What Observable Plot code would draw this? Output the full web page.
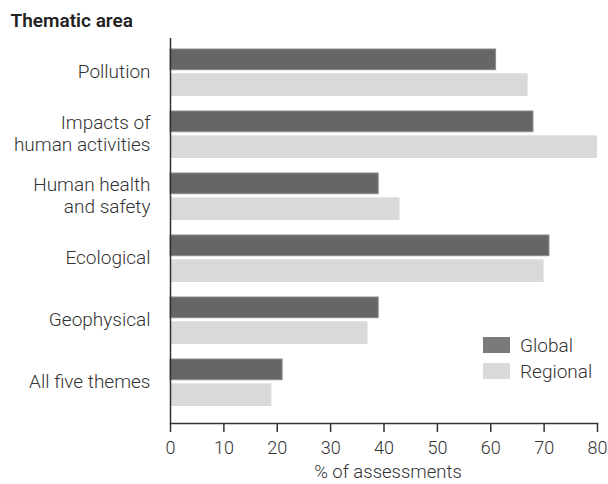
<!DOCTYPE html>
<html>
<head>
<meta charset="utf-8">
<script src="https://cdn.jsdelivr.net/npm/d3@7"></script>
<script src="https://cdn.jsdelivr.net/npm/@observablehq/plot@0.6"></script>
<style>
  html, body { margin: 0; padding: 0; background: #fff; }
  #wrap { position: relative; width: 608px; height: 484px; font-family: Roboto, "Noto Sans", sans-serif; }
  .leg { position: absolute; display: flex; align-items: center; font-size: 19px; font-weight: 300; color: #333; }
  .sw { width: 27px; height: 16px; margin-right: 10px; }
</style>
</head>
<body>
<div id="wrap"></div>
<script>
const categories = ["Pollution", "Impacts of human activities", "Human health and safety", "Ecological", "Geophysical", "All five themes"];
const tickLabels = ["Pollution", "Impacts of\nhuman activities", "Human health\nand safety", "Ecological", "Geophysical", "All five themes"];
const globalValues = [61, 68, 39, 71, 39, 21];
const regionalValues = [67, 80, 43, 70, 37, 19];
const seriesNames = ["Global", "Regional"];
const seriesColors = ["#666666", "#d9d9d9"];
const xTicks = [0, 10, 20, 30, 40, 50, 60, 70, 80];
const titleText = "Thematic area";
const xLabel = "% of assessments";

const data = categories.map((c, i) => ({cat: c, g: globalValues[i], r: regionalValues[i]}));
const labelOf = new Map(categories.map((c, i) => [c, tickLabels[i]]));

const chart = Plot.plot({
  width: 608,
  height: 484,
  marginLeft: 170,
  marginRight: 11,
  marginTop: 38,
  marginBottom: 61,
  style: {fontFamily: "Roboto, 'Noto Sans', sans-serif", fontSize: "19px", color: "#333", background: "#fff"},
  x: {domain: [0, 80]},
  y: {domain: categories, paddingInner: 0.24, paddingOuter: 0.21, align: 0.39},
  marks: [
    Plot.barX(data, {x: "g", y: "cat", fill: seriesColors[0], stroke: "#8a8a8a", strokeWidth: 1, insetBottom: 26.3}),
    Plot.barX(data, {x: "r", y: "cat", fill: seriesColors[1], insetTop: 24.3}),
    Plot.axisY({tickSize: 0, tickPadding: 20, tickFormat: d => labelOf.get(d), lineHeight: 1.15, label: null, fontSize: 19, fontWeight: 300, fill: "#333", dy: -2}),
    Plot.axisX({ticks: xTicks, tickSize: 9, tickPadding: 9, stroke: "#333", strokeWidth: 1.5, fontSize: 18, fontWeight: 300, fill: "#333", label: null}),
    Plot.text([xLabel], {frameAnchor: "bottom", dx: 4, dy: 49, lineAnchor: "middle", fontSize: 18.5, fontWeight: 300, fill: "#333"}),
    Plot.ruleX([0], {stroke: "#333", strokeWidth: 1.5}),
    Plot.frame({anchor: "bottom", stroke: "#333", strokeWidth: 1.5}),
    Plot.text([titleText], {frameAnchor: "top-left", dx: -160, dy: -18, textAnchor: "start", lineAnchor: "middle", fontWeight: 600, fontSize: 19, fill: "#222"})
  ]
});

const wrap = document.getElementById("wrap");
wrap.appendChild(chart);

const legTops = [337, 363];
seriesNames.forEach((name, i) => {
  const el = document.createElement("div");
  el.className = "leg";
  el.style.left = "483px";
  el.style.top = (legTops[i] - 1) + "px";
  el.style.height = "18px";
  const sw = document.createElement("div");
  sw.className = "sw";
  sw.style.background = i === 0 ? "#7a7a7a" : seriesColors[1];
  const t = document.createElement("span");
  t.textContent = name;
  el.appendChild(sw);
  el.appendChild(t);
  wrap.appendChild(el);
});
</script>
</body>
</html>
